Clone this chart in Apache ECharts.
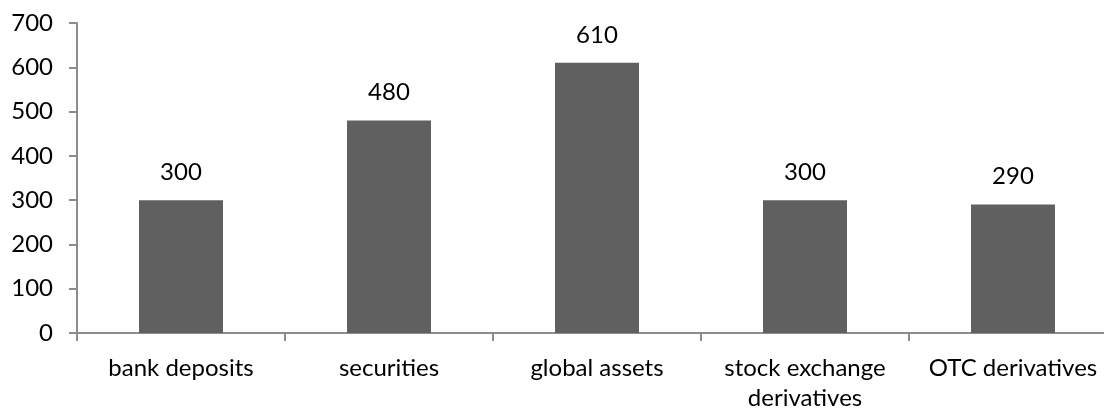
<!DOCTYPE html>
<html>
<head>
<meta charset="utf-8">
<script src="https://cdn.jsdelivr.net/npm/echarts@6/dist/echarts.min.js"></script>
<style>
  html, body { margin: 0; padding: 0; background: #fff; }
  #chart { width: 1104px; height: 410px; }
</style>
</head>
<body>
<div id="chart"></div>
<script>
// Categories and values
const categories = ['bank deposits', 'securities', 'global assets', 'stock exchange\nderivatives', 'OTC derivatives'];
const values = [300, 480, 610, 300, 290];
const yTicks = { min: 0, max: 700, interval: 100 };

const FONT = 'Lato, "Open Sans", sans-serif';
const AXIS_COLOR = '#8c8c8c';

const chart = echarts.init(document.getElementById('chart'), null, { renderer: 'canvas' });
chart.setOption({
  animation: false,
  backgroundColor: '#ffffff',
  grid: { left: 77, right: -13, top: 23, bottom: 77, containLabel: false, outerBoundsMode: 'none' },
  xAxis: {
    type: 'category',
    data: categories,
    axisLine: { show: true, lineStyle: { color: AXIS_COLOR, width: 2 } },
    axisTick: { show: true, alignWithLabel: false, length: 8, lineStyle: { color: AXIS_COLOR, width: 2 } },
    axisLabel: { color: '#000', fontFamily: FONT, fontSize: 24, margin: 20, lineHeight: 30, interval: 0 }
  },
  yAxis: {
    type: 'value',
    min: yTicks.min,
    max: yTicks.max,
    interval: yTicks.interval,
    splitLine: { show: false },
    axisLine: { show: true, lineStyle: { color: AXIS_COLOR, width: 2 } },
    axisTick: { show: true, length: 8, lineStyle: { color: AXIS_COLOR, width: 2 } },
    axisLabel: { color: '#000', fontFamily: FONT, fontSize: 24, margin: 24 }
  },
  series: [{
    type: 'bar',
    data: values,
    barWidth: 84,
    itemStyle: { color: '#606060' },
    label: { show: true, position: 'top', distance: 16, color: '#000', fontFamily: FONT, fontSize: 24 }
  }]
});
</script>
</body>
</html>
